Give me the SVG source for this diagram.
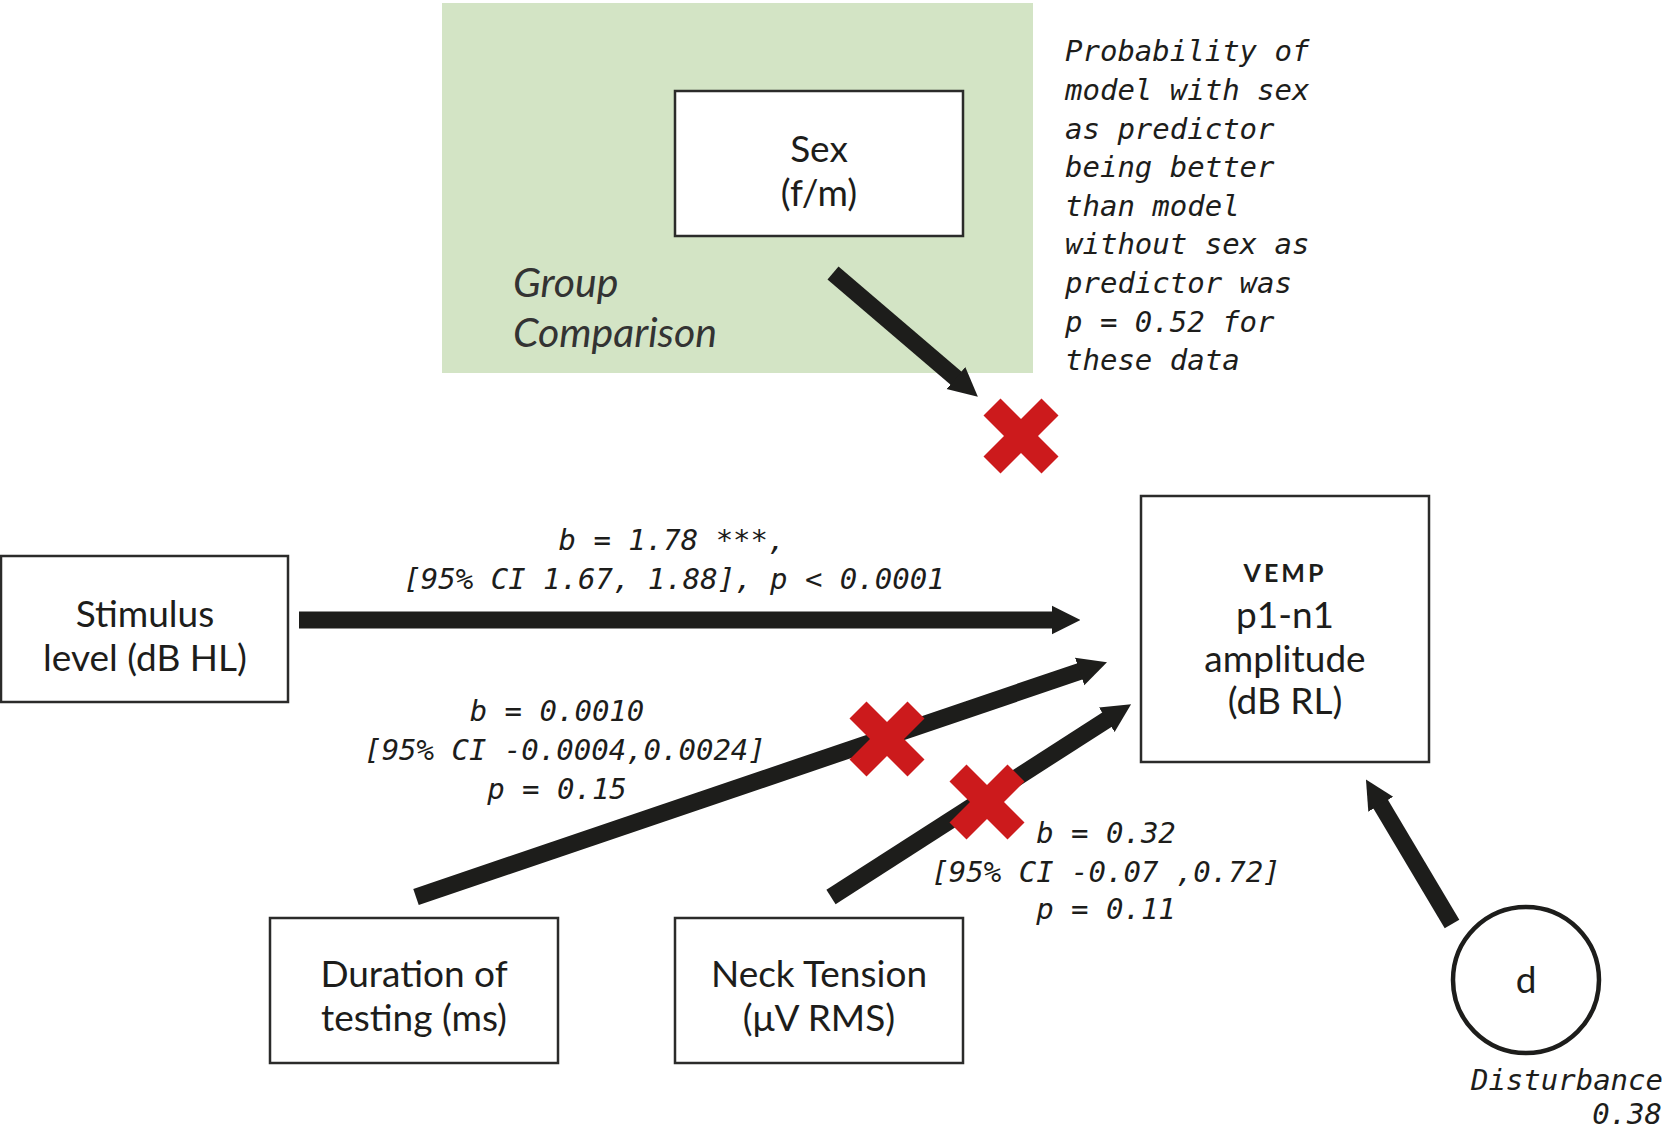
<svg xmlns="http://www.w3.org/2000/svg" width="1662" height="1129" viewBox="0 0 1662 1129">
<style>
.box{fill:#fff;stroke:#2b2b2a;stroke-width:2.5}
.lbl{font-family:Lato,"Noto Sans","Liberation Sans",sans-serif;font-size:37px;fill:#1d1d1b;text-anchor:middle}
.mono{font-family:"DejaVu Sans Mono","Liberation Mono",monospace;font-style:italic;font-size:29px;fill:#1d1d1b}
.mid{text-anchor:middle}
.arr{stroke:#1d1d1b;stroke-width:17;fill:none;marker-end:url(#head)}
</style>
<defs>
<marker id="head" viewBox="0 0 10 10" refX="0.5" refY="5" markerWidth="1.7" markerHeight="2.8" orient="auto">
<path d="M0,0 L10,5 L0,10 z" fill="#1d1d1b"/>
</marker>
<g id="xmark">
<line x1="-29" y1="-29" x2="29" y2="29" stroke="#cc1a1c" stroke-width="24"/>
<line x1="29" y1="-29" x2="-29" y2="29" stroke="#cc1a1c" stroke-width="24"/>
</g>
</defs>
<rect x="0" y="0" width="1662" height="1129" fill="#fff"/>
<g id="group-comparison">
<rect x="442" y="3" width="591" height="370" fill="#d3e4c5"/>
<text x="513" y="297" class="lbl" style="text-anchor:start;font-style:italic;font-size:41px;fill:#333">Group</text>
<text x="513" y="347" class="lbl" style="text-anchor:start;font-style:italic;font-size:41px;fill:#333">Comparison</text>
</g>
<g id="sex">
<rect x="675" y="91" width="288" height="145" class="box"/>
<text x="819" y="162" class="lbl">Sex</text>
<text x="819" y="206" class="lbl">(f/m)</text>
</g>
<g id="note">
<text class="mono" x="1065" y="61">Probability of</text>
<text class="mono" x="1065" y="100">model with sex</text>
<text class="mono" x="1065" y="139">as predictor</text>
<text class="mono" x="1065" y="177">being better</text>
<text class="mono" x="1065" y="216">than model</text>
<text class="mono" x="1065" y="254">without sex as</text>
<text class="mono" x="1065" y="293">predictor was</text>
<text class="mono" x="1065" y="332">p = 0.52 for</text>
<text class="mono" x="1065" y="370">these data</text>
</g>
<g id="stimulus">
<rect x="1" y="556" width="287" height="146" class="box"/>
<text x="145" y="627" class="lbl">Stimulus</text>
<text x="145" y="671" class="lbl">level (dB HL)</text>
</g>
<g id="vemp">
<rect x="1141" y="496" width="288" height="266" class="box"/>
<text x="1285" y="582" class="lbl" style="font-size:25px;font-weight:bold;letter-spacing:3px">VEMP</text>
<text x="1285" y="628" class="lbl">p1-n1</text>
<text x="1285" y="672" class="lbl">amplitude</text>
<text x="1285" y="714" class="lbl">(dB RL)</text>
</g>
<g id="duration">
<rect x="270" y="918" width="288" height="145" class="box"/>
<text x="414" y="987" class="lbl">Duration of</text>
<text x="414" y="1031" class="lbl">testing (ms)</text>
</g>
<g id="neck">
<rect x="675" y="918" width="288" height="145" class="box"/>
<text x="819" y="987" class="lbl">Neck Tension</text>
<text x="819" y="1031" class="lbl">(μV RMS)</text>
</g>
<g id="disturbance">
<circle cx="1526" cy="980" r="73" fill="#fff" stroke="#1d1d1b" stroke-width="4.5"/>
<text x="1526" y="993" class="lbl">d</text>
<text class="mono" x="1663" y="1090" text-anchor="end">Disturbance</text>
<text class="mono" x="1662" y="1124" text-anchor="end">0.38</text>
</g>
<g id="connectors">
<line class="arr" x1="833" y1="273" x2="957" y2="379"/>
<line class="arr" x1="299" y1="620" x2="1053" y2="620"/>
<line class="arr" x1="416" y1="897" x2="1081" y2="671"/>
<line class="arr" x1="831" y1="897" x2="1108" y2="719"/>
<line class="arr" x1="1452" y1="924" x2="1380" y2="803"/>
</g>
<g id="crosses">
<use href="#xmark" x="1021" y="436"/>
<use href="#xmark" x="887" y="739"/>
<use href="#xmark" x="987" y="802"/>
</g>
<g id="labels">
<text class="mono mid" x="672" y="550">b = 1.78 ***,</text>
<text class="mono mid" x="674" y="589">[95% CI 1.67, 1.88], p &lt; 0.0001</text>
<text class="mono mid" x="557" y="721">b = 0.0010</text>
<text class="mono mid" x="565" y="760">[95% CI -0.0004,0.0024]</text>
<text class="mono mid" x="557" y="799">p = 0.15</text>
<text class="mono mid" x="1106" y="843">b = 0.32</text>
<text class="mono mid" x="1106" y="882">[95% CI -0.07 ,0.72]</text>
<text class="mono mid" x="1106" y="919">p = 0.11</text>
</g>
</svg>
